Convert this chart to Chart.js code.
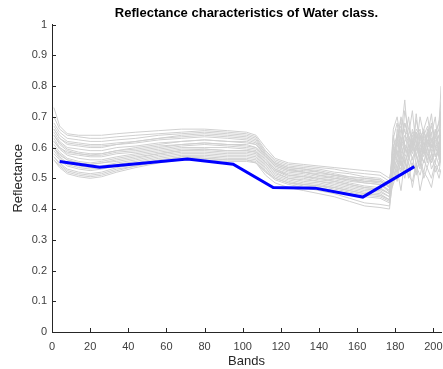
<!DOCTYPE html>
<html>
<head>
<meta charset="utf-8">
<script src="https://cdn.jsdelivr.net/npm/chart.js@4.4.1/dist/chart.umd.min.js"></script>
<style>
  html, body { margin: 0; padding: 0; background: #fff; }
  #wrap { width: 443px; height: 369px; }
</style>
</head>
<body>
<div id="wrap"><canvas id="grafico"></canvas></div>
<script>
const bandGrid = [1, 4, 8, 14, 20, 26, 34, 44, 56, 68, 80, 92, 102,
    107, 112, 117, 124, 132, 140, 148, 156, 164, 172, 177,
    179, 181, 183, 185, 187, 189, 191, 193, 195, 197, 199, 201, 203, 204];

// individual water pixels (grey)
const waterSpectra = [
    [.73,.67,.645,.64,.64,.64,.645,.65,.655,.66,.66,.655,.65, .64,.60,.565,.55,.545,.54,.535,.53,.525,.52,.50, .56,.62,.70,.65,.64,.60,.66,.64,.58,.65,.62,.63,.66,.80],
    [.70,.66,.64,.635,.63,.63,.635,.64,.645,.65,.655,.65,.645, .635,.59,.56,.545,.54,.535,.53,.52,.515,.51,.49, .60,.58,.64,.755,.60,.62,.65,.62,.66,.60,.64,.70,.58,.74],
    [.68,.65,.63,.625,.62,.62,.625,.63,.64,.645,.65,.645,.64, .63,.585,.555,.54,.535,.53,.52,.515,.505,.50,.48, .52,.66,.60,.62,.64,.72,.60,.65,.63,.64,.71,.60,.62,.70],
    [.67,.64,.62,.615,.61,.61,.615,.62,.63,.635,.64,.635,.63, .62,.58,.55,.535,.53,.525,.515,.505,.50,.495,.47, .54,.62,.69,.58,.63,.61,.64,.56,.65,.62,.59,.64,.66,.68],
    [.66,.63,.61,.605,.60,.60,.61,.615,.625,.63,.635,.63,.625, .615,.575,.545,.53,.52,.515,.51,.50,.495,.49,.47, .58,.55,.62,.66,.57,.64,.59,.62,.60,.66,.58,.62,.64,.60],
    [.65,.62,.60,.595,.59,.59,.60,.605,.615,.62,.625,.62,.615, .61,.57,.54,.525,.52,.51,.505,.495,.49,.485,.46, .60,.64,.56,.62,.70,.60,.63,.66,.58,.62,.65,.57,.60,.64],
    [.64,.615,.595,.585,.58,.58,.59,.595,.605,.61,.615,.61,.61, .60,.565,.535,.52,.515,.505,.50,.49,.485,.48,.455, .55,.60,.66,.60,.58,.62,.57,.64,.61,.55,.63,.60,.58,.65],
    [.63,.60,.58,.575,.57,.57,.58,.585,.595,.605,.61,.605,.60, .595,.56,.53,.515,.51,.50,.495,.485,.475,.47,.45, .57,.53,.60,.64,.62,.56,.61,.58,.63,.60,.56,.62,.64,.58],
    [.62,.595,.575,.565,.56,.56,.57,.58,.59,.60,.60,.60,.595, .59,.555,.53,.51,.505,.495,.49,.48,.47,.465,.45, .61,.58,.54,.60,.57,.66,.62,.56,.60,.64,.58,.55,.61,.63],
    [.61,.585,.565,.555,.55,.555,.565,.575,.585,.595,.595,.59,.59, .585,.55,.525,.505,.50,.49,.485,.475,.465,.46,.44, .52,.57,.62,.55,.59,.63,.54,.60,.57,.62,.60,.66,.56,.62],
    [.60,.575,.56,.55,.545,.55,.56,.57,.58,.59,.59,.585,.585, .58,.545,.52,.50,.495,.49,.48,.47,.46,.455,.44, .58,.62,.57,.53,.61,.58,.65,.59,.55,.60,.62,.57,.60,.66],
    [.60,.57,.55,.54,.535,.54,.55,.56,.575,.585,.585,.58,.58, .575,.54,.515,.50,.49,.485,.475,.465,.455,.45,.43, .55,.50,.58,.61,.56,.60,.57,.53,.62,.58,.55,.60,.57,.61],
    [.59,.565,.545,.535,.53,.535,.545,.555,.57,.58,.58,.575,.575, .57,.535,.51,.495,.485,.48,.47,.46,.45,.445,.43, .60,.56,.52,.58,.55,.62,.58,.54,.59,.56,.61,.58,.54,.60],
    [.58,.56,.54,.53,.525,.53,.54,.55,.565,.575,.575,.57,.57, .565,.53,.505,.49,.48,.475,.465,.455,.445,.44,.425, .54,.59,.55,.50,.57,.54,.60,.56,.52,.58,.55,.59,.62,.55],
    [.57,.55,.53,.52,.515,.52,.535,.545,.56,.57,.57,.565,.565, .56,.525,.50,.485,.475,.47,.46,.45,.44,.435,.42, .56,.52,.58,.55,.53,.57,.51,.58,.55,.60,.53,.56,.59,.62],
    [.56,.54,.52,.51,.505,.51,.525,.54,.555,.565,.565,.56,.56, .555,.52,.495,.48,.47,.46,.45,.435,.42,.415,.41, .50,.55,.53,.57,.50,.55,.52,.56,.50,.54,.58,.52,.55,.59],
    [.56,.535,.515,.505,.50,.505,.52,.535,.55,.56,.56,.555,.555, .55,.51,.485,.47,.46,.45,.44,.425,.41,.405,.40, .53,.49,.56,.52,.55,.47,.54,.51,.56,.53,.50,.55,.52,.57],
    [.57,.545,.525,.515,.51,.515,.53,.54,.555,.57,.565,.56,.56, .55,.52,.50,.485,.48,.475,.47,.46,.45,.445,.43, .66,.70,.62,.68,.64,.60,.69,.63,.66,.70,.62,.65,.68,.72],
    [.62,.60,.585,.58,.575,.575,.585,.59,.60,.61,.615,.61,.605, .60,.57,.54,.525,.52,.51,.50,.495,.485,.48,.46, .63,.68,.58,.72,.66,.62,.60,.70,.64,.61,.67,.63,.69,.75],
    [.64,.61,.59,.58,.575,.58,.59,.60,.61,.62,.625,.62,.62, .61,.575,.545,.53,.525,.52,.51,.50,.49,.49,.47, .56,.64,.67,.61,.59,.65,.62,.58,.64,.67,.60,.63,.61,.66],
    [.60,.58,.56,.55,.545,.55,.555,.565,.58,.59,.595,.59,.59, .585,.55,.525,.51,.505,.50,.49,.48,.47,.465,.45, .48,.53,.46,.56,.51,.49,.55,.46,.52,.50,.47,.54,.50,.53],
    [.66,.63,.615,.61,.605,.605,.61,.62,.63,.64,.645,.64,.635, .625,.58,.55,.535,.53,.52,.51,.505,.50,.495,.475, .64,.57,.61,.68,.63,.59,.71,.60,.65,.62,.68,.60,.64,.70]
];

// class mean (blue)
const meanBands = [4, 25, 71, 95, 116, 138, 163, 190];
const meanReflectance = [0.555, 0.536, 0.563, 0.546, 0.470, 0.468, 0.439, 0.538];

const xTicks = [0, 20, 40, 60, 80, 100, 120, 140, 160, 180, 200];
const yTicks = [0, 0.1, 0.2, 0.3, 0.4, 0.5, 0.6, 0.7, 0.8, 0.9, 1];

const FONTE = "'Liberation Sans', Arial, Helvetica, sans-serif";
const COR_EIXO = '#262626';

function montarPontos(xs, ys) {
    return xs.map((x, i) => ({ x: x, y: ys[i] }));
}

const datasets = waterSpectra.map(spec => ({
    data: montarPontos(bandGrid, spec),
    borderColor: 'rgb(208,208,208)',
    borderWidth: 1,
    pointRadius: 0,
    tension: 0,
    order: 1
}));
// lowest order is drawn last, so the mean sits on top
datasets.push({
    data: montarPontos(meanBands, meanReflectance),
    borderColor: 'rgb(0,0,255)',
    borderWidth: 3,
    pointRadius: 0,
    tension: 0,
    order: 0
});

// MATLAB-style ticks pointing into the axes
const ticksParaDentro = {
    id: 'ticksParaDentro',
    afterDraw(chart) {
        const ctx = chart.ctx;
        const xs = chart.scales.x, ys = chart.scales.y;
        const area = chart.chartArea;
        ctx.save();
        ctx.strokeStyle = COR_EIXO;
        ctx.lineWidth = 1;
        ctx.beginPath();
        xTicks.forEach(v => {
            const px = Math.round(xs.getPixelForValue(v)) + 0.5;
            ctx.moveTo(px, area.bottom);
            ctx.lineTo(px, area.bottom - 4);
        });
        yTicks.forEach(v => {
            const py = Math.round(ys.getPixelForValue(v)) + 0.5;
            ctx.moveTo(area.left, py);
            ctx.lineTo(area.left + 4, py);
        });
        ctx.stroke();
        ctx.restore();
    }
};

const ctx = document.getElementById('grafico').getContext('2d');
const grafico = new Chart(ctx, {
    type: 'line',
    data: { datasets: datasets },
    options: {
        responsive: true,
        maintainAspectRatio: false,
        animation: false,
        events: [],
        layout: { padding: { left: 0, right: 2, top: 0, bottom: 0 } },
        plugins: {
            legend: { display: false },
            tooltip: { enabled: false },
            title: {
                display: true,
                text: 'Reflectance characteristics of Water class.',
                fullSize: false,
                color: '#000',
                font: { family: FONTE, size: 13, weight: 'bold' },
                padding: { top: 6, bottom: 3 }
            }
        },
        scales: {
            x: {
                type: 'linear',
                min: 0,
                max: 204,
                afterBuildTicks: s => { s.ticks = xTicks.map(v => ({ value: v })); },
                afterFit: s => { s.height = 37; s.paddingLeft = 0; s.paddingRight = 0; },
                grid: { drawOnChartArea: false, drawTicks: false },
                border: { color: COR_EIXO, width: 1 },
                ticks: {
                    padding: 8,
                    color: '#404040',
                    maxRotation: 0,
                    font: { family: FONTE, size: 11 }
                },
                title: {
                    display: true,
                    text: 'Bands',
                    color: '#262626',
                    font: { family: FONTE, size: 13 },
                    padding: { top: 0, bottom: 0 }
                }
            },
            y: {
                type: 'linear',
                min: 0,
                max: 1,
                afterBuildTicks: s => { s.ticks = yTicks.map(v => ({ value: v })); },
                afterFit: s => { s.width = 52; },
                grid: { drawOnChartArea: false, drawTicks: false },
                border: { color: COR_EIXO, width: 1 },
                ticks: {
                    padding: 5,
                    color: '#404040',
                    font: { family: FONTE, size: 11 },
                    callback: v => String(Math.round(v * 10) / 10)
                },
                title: {
                    display: true,
                    text: 'Reflectance',
                    color: '#262626',
                    font: { family: FONTE, size: 13 },
                    padding: { top: 11, bottom: 0 }
                }
            }
        }
    },
    plugins: [ticksParaDentro]
});
</script>
</body>
</html>
